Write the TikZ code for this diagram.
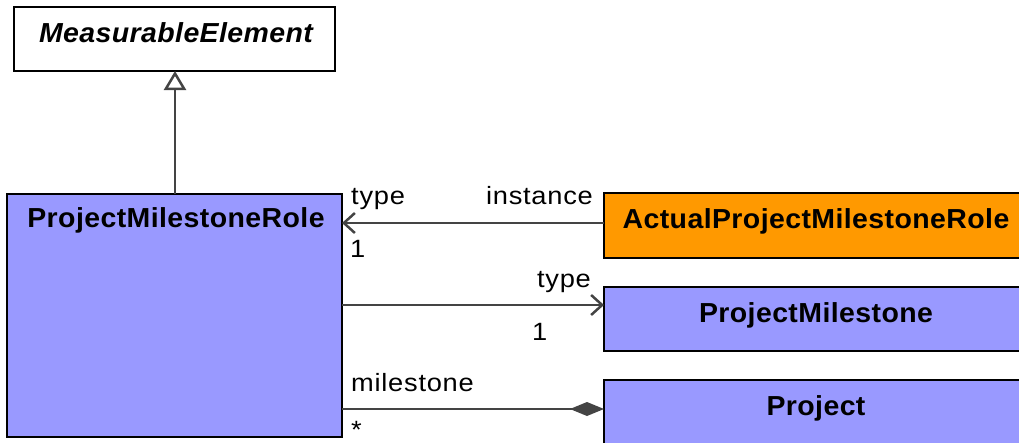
\documentclass[tikz,border=0pt]{standalone}
\usepackage{fontspec}
\setmainfont{Liberation Sans}
\newfontfamily\clsfont[FakeStretch=1.035,LetterSpace=1.5]{Liberation Sans}
\newfontfamily\lblfont[FakeStretch=1.09,LetterSpace=3]{Liberation Sans}
\usetikzlibrary{arrows.meta}
\definecolor{cls}{HTML}{9999FF}
\definecolor{act}{HTML}{FF9900}
\definecolor{ln}{HTML}{444444}
\begin{document}
\begin{tikzpicture}[x=1pt,y=-1pt,
  box/.style={draw=black,line width=2pt},
  clsname/.style={font=\clsfont\fontsize{27.5}{30}\selectfont\bfseries,anchor=base,inner sep=0},
  lab/.style={font=\lblfont\fontsize{25}{30}\selectfont,inner sep=0},
  conn/.style={draw=ln,line width=2.5pt}]
\useasboundingbox (0,0) rectangle (1019,442);
% boxes
\draw[box,fill=white] (14,7) rectangle (335,71);
\coordinate (meB) at (175,71);
\node[clsname,font=\clsfont\fontsize{27.5}{30}\selectfont\bfseries\itshape] (me) at (176,42) {MeasurableElement};
\draw[box,fill=cls] (7,194) rectangle (342,437);
\node[clsname] (pmr) at (176,227.5) {ProjectMilestoneRole};
\coordinate (pmrT) at (175,194);
\draw[box,fill=act] (604,193) rectangle (1030,258);
\node[clsname] (apmr) at (816,228) {ActualProjectMilestoneRole};
\draw[box,fill=cls] (604,287) rectangle (1030,351);
\node[clsname] (pm) at (816,322) {ProjectMilestone};
\draw[box,fill=cls] (604,380) rectangle (1030,450);
\node[clsname] (pj) at (816,415) {Project};
% endpoints
\coordinate (a1) at (604,223); \coordinate (b1) at (342,223);
\coordinate (a2) at (342,305); \coordinate (b2) at (604,305);
\coordinate (a3) at (342,409); \coordinate (b3) at (604,409);
% connectors
\draw[conn,-{Triangle[open,length=19pt,width=22pt,fill=white]}] (pmrT) -- (meB);
\draw[conn,-{Straight Barb[length=11pt,width=20pt]}] (a1) -- (b1);
\draw[conn,-{Straight Barb[length=11pt,width=20pt]}] (a2) -- (b2);
\draw[conn,-{Diamond[length=34pt,width=14pt,fill=ln]}] (a3) -- (b3);
% labels
\node[lab,anchor=base west] (l1) at (351,204) {type};
\node[lab,anchor=base east] (l2) at (593,204) {instance};
\node[lab,anchor=base west] (l3) at (350,257) {1};
\node[lab,anchor=base east] (l4) at (591,287) {type};
\node[lab,anchor=base west] (l5) at (532,340) {1};
\node[lab,anchor=base west] (l6) at (351,391) {milestone};
\node[lab,anchor=base west] (l7) at (351,438) {*};
\end{tikzpicture}
\end{document}
